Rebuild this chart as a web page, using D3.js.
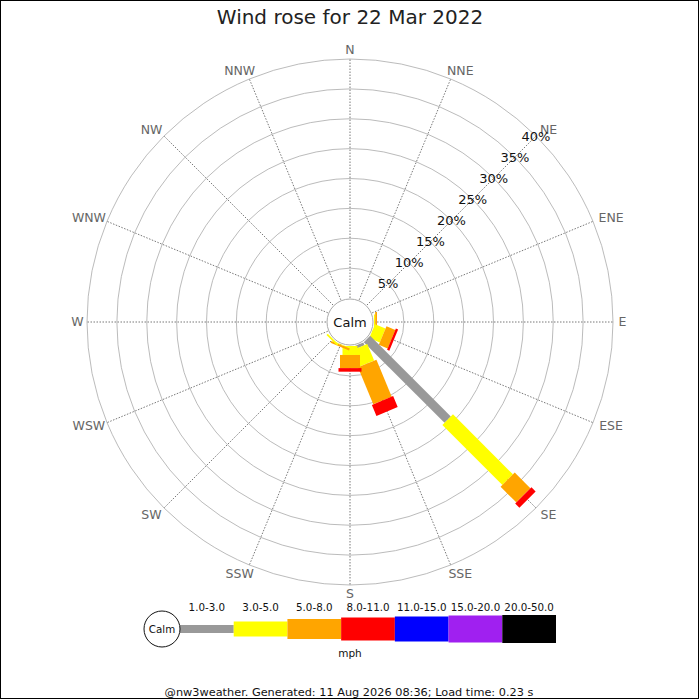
<!DOCTYPE html>
<html lang="en">
<head>
    <meta charset="UTF-8">
    <title>Wind rose</title>
    <script src="https://d3js.org/d3.v7.min.js"></script>
    <style>
        body {
            margin: 0;
            background-color: #fff;
        }
        text {
            font-family: 'DejaVu Sans', sans-serif;
        }
    </style>
</head>
<body>
    <script>
        // Data
        const directions = ["N", "NNE", "NE", "ENE", "E", "ESE", "SE", "SSE",
                            "S", "SSW", "SW", "WSW", "W", "WNW", "NW", "NNW"];
        const speedClasses = ["1.0-3.0", "3.0-5.0", "5.0-8.0", "8.0-11.0", "11.0-15.0", "15.0-20.0", "20.0-50.0"];
        const classColors = ["#999999", "#ffff00", "#ffa500", "#ff0000", "#0000ff", "#a020f0", "#000000"];
        const pctTicks = [5, 10, 15, 20, 25, 30, 35, 40];

        // percent of time per direction, one array per speed class
        const s1to3   = [0, 0, 0, 0, 0,   0,   19.1, 0.5, 0,   0,    0,   0, 0, 0, 0, 0];
        const s3to5   = [0, 0, 0, 0, 0.2, 1.9, 14.2, 3.0, 1.5, 0.1,  0.3, 0, 0, 0, 0, 0];
        const s5to8   = [0, 0, 0, 0, 0.3, 1.6, 3.7,  6.7, 2.2, 0.35, 0,   0, 0, 0, 0, 0];
        const s8to11  = [0, 0, 0, 0, 0,   0.4, 1.0,  2.0, 0.6, 0,    0,   0, 0, 0, 0, 0];
        const s11to15 = [0, 0, 0, 0, 0,   0,   0,    0,   0,   0,    0,   0, 0, 0, 0, 0];
        const s15to20 = [0, 0, 0, 0, 0,   0,   0,    0,   0,   0,    0,   0, 0, 0, 0, 0];
        const s20to50 = [0, 0, 0, 0, 0,   0,   0,    0,   0,   0,    0,   0, 0, 0, 0, 0];
        const series = [s1to3, s3to5, s5to8, s8to11, s11to15, s15to20, s20to50];

        const W = 700, H = 700;
        const cx = 350, cy = 322;
        const calmR = 24, outerR = 263;

        const svg = d3.select("body").append("svg")
            .attr("width", W)
            .attr("height", H);

        svg.append("rect")
            .attr("x", 0.5).attr("y", 0.5)
            .attr("width", 698).attr("height", 698)
            .attr("fill", "#fff")
            .attr("stroke", "#000");

        // scales
        const r = d3.scaleLinear().domain([0, 40]).range([calmR, outerR]);
        const angle = d3.scaleLinear().domain([0, directions.length]).range([0, 360]);
        const barWidth = d3.scaleOrdinal().domain(speedClasses).range([9, 15, 20, 23, 25, 27, 28]);
        const color = d3.scaleOrdinal().domain(speedClasses).range(classColors);
        const rad = a => (a - 90) * Math.PI / 180;

        const g = svg.append("g").attr("transform", `translate(${cx},${cy})`);

        // rings
        g.selectAll(".ring")
            .data(pctTicks)
            .enter().append("circle")
            .attr("class", "ring")
            .attr("r", d => r(d))
            .attr("fill", "none")
            .attr("stroke", "#aaa")
            .attr("stroke-width", 0.8);

        // spokes
        g.selectAll(".spoke")
            .data(directions)
            .enter().append("line")
            .attr("class", "spoke")
            .attr("x1", (d, i) => calmR * Math.cos(rad(angle(i))))
            .attr("y1", (d, i) => calmR * Math.sin(rad(angle(i))))
            .attr("x2", (d, i) => outerR * Math.cos(rad(angle(i))))
            .attr("y2", (d, i) => outerR * Math.sin(rad(angle(i))))
            .attr("stroke", "#555")
            .attr("stroke-width", 0.8)
            .attr("stroke-dasharray", "1.5,1.5");

        // direction labels, pushed sideways by half their width
        function dirX(d, i) {
            const a = rad(angle(i));
            const c = Math.cos(a);
            const shift = Math.sign(c) * d.length * 4.5 * Math.min(1, 1.5 * Math.abs(c));
            return 268 * c + shift;
        }
        g.selectAll(".dir")
            .data(directions)
            .enter().append("text")
            .attr("class", "dir")
            .attr("x", dirX)
            .attr("y", (d, i) => 272 * Math.sin(rad(angle(i))))
            .attr("dy", "0.35em")
            .attr("text-anchor", "middle")
            .attr("font-size", 12.5)
            .attr("fill", "#666")
            .text(d => d);

        // stacked bars
        const bars = [];
        directions.forEach((dir, i) => {
            let cum = 0;
            series.forEach((vals, k) => {
                const v = vals[i];
                if (v > 0) {
                    bars.push({dir: i, cls: speedClasses[k], start: cum, end: cum + v});
                }
                cum += v;
            });
        });

        g.selectAll(".bar")
            .data(bars)
            .enter().append("rect")
            .attr("class", "bar")
            .attr("transform", d => `rotate(${angle(d.dir)})`)
            .attr("x", d => -barWidth(d.cls) / 2)
            .attr("y", d => -r(d.end))
            .attr("width", d => barWidth(d.cls))
            .attr("height", d => r(d.end) - r(d.start))
            .attr("fill", d => color(d.cls));

        // percentage labels along NE
        g.selectAll(".pct")
            .data(pctTicks)
            .enter().append("text")
            .attr("class", "pct")
            .attr("x", d => r(d) * Math.cos(rad(45)))
            .attr("y", d => r(d) * Math.sin(rad(45)))
            .attr("dy", "0.35em")
            .attr("text-anchor", "middle")
            .attr("font-size", 13)
            .attr("fill", "#111")
            .text(d => d + "%");

        // calm circle
        g.append("circle")
            .attr("r", calmR - 1)
            .attr("fill", "#fff")
            .attr("stroke", "#aaa")
            .attr("stroke-width", 1);
        g.append("text")
            .attr("dy", "0.35em")
            .attr("text-anchor", "middle")
            .attr("font-size", 13)
            .attr("fill", "#111")
            .text("Calm");

        // title
        svg.append("text")
            .attr("x", 350).attr("y", 24)
            .attr("text-anchor", "middle")
            .attr("font-size", 20)
            .attr("fill", "#222")
            .text("Wind rose for 22 Mar 2022");

        // legend
        const lx = d3.scaleBand().domain(speedClasses).range([180, 556]);
        const legendY = 629;
        const legend = svg.append("g").attr("class", "legend");

        legend.selectAll(".swatch")
            .data(speedClasses)
            .enter().append("rect")
            .attr("class", "swatch")
            .attr("x", d => lx(d))
            .attr("y", d => d === speedClasses[0] ? legendY - 4 : legendY - barWidth(d) / 2)
            .attr("width", lx.bandwidth())
            .attr("height", d => d === speedClasses[0] ? 8 : barWidth(d))
            .attr("fill", d => color(d));

        legend.selectAll(".lbl")
            .data(speedClasses)
            .enter().append("text")
            .attr("class", "lbl")
            .attr("x", d => lx(d) + lx.bandwidth() / 2)
            .attr("y", 611)
            .attr("text-anchor", "middle")
            .attr("font-size", 10.3)
            .attr("fill", "#111")
            .text(d => d);

        legend.append("circle")
            .attr("cx", 162).attr("cy", legendY)
            .attr("r", 18)
            .attr("fill", "#fff")
            .attr("stroke", "#111");
        legend.append("text")
            .attr("x", 162).attr("y", legendY)
            .attr("dy", "0.35em")
            .attr("text-anchor", "middle")
            .attr("font-size", 10.3)
            .attr("fill", "#111")
            .text("Calm");

        legend.append("text")
            .attr("x", 350).attr("y", 657)
            .attr("text-anchor", "middle")
            .attr("font-size", 10.5)
            .attr("fill", "#111")
            .text("mph");

        // footer
        svg.append("text")
            .attr("x", 349).attr("y", 696)
            .attr("text-anchor", "middle")
            .attr("font-size", 11.3)
            .attr("fill", "#111")
            .text("@nw3weather. Generated: 11 Aug 2026 08:36; Load time: 0.23 s");
    </script>
</body>
</html>
